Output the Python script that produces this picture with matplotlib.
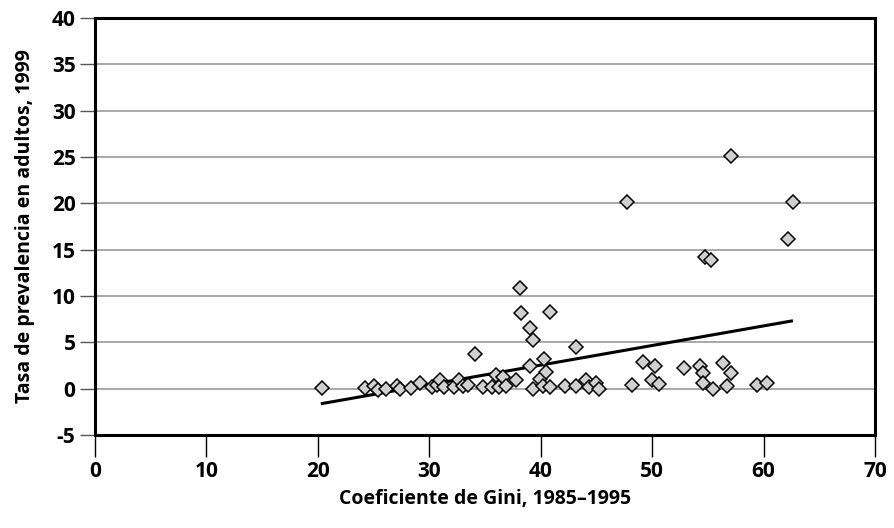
import matplotlib
matplotlib.use("Agg")
import matplotlib.pyplot as plt
import numpy as np

# --- DATA ---
gini = [20.4, 24.2, 25.0, 25.4, 26.1, 27.1, 27.4, 28.4, 29.2, 30.2,
        30.7, 31.0, 31.3, 32.2, 32.7, 33.0, 33.5, 34.1, 34.8, 35.6,
        36.0, 36.3, 36.6, 36.9, 37.8, 38.1, 38.2, 39.0, 39.3, 39.0,
        39.3, 39.9, 40.2, 40.3, 40.5, 40.8, 40.8, 42.2, 43.2, 43.2,
        44.1, 44.3, 45.0, 45.2, 47.7, 48.2, 49.2, 50.0, 50.3, 50.6,
        52.9, 54.3, 54.6, 54.6, 54.7, 55.3, 55.5, 56.4, 56.7, 57.1,
        57.1, 59.4, 60.3, 62.2, 62.6]
prevalencia = [0.1, 0.1, 0.3, -0.1, 0.0, 0.3, 0.0, 0.1, 0.6, 0.2,
               0.4, 0.9, 0.2, 0.15, 0.9, 0.3, 0.4, 3.7, 0.2, 0.15,
               1.5, 0.2, 1.3, 0.3, 0.9, 10.9, 8.2, 6.5, 5.2, 2.4,
               0.0, 1.0, 0.3, 3.2, 1.8, 8.3, 0.2, 0.3, 4.5, 0.3,
               0.9, 0.2, 0.6, 0.0, 20.1, 0.4, 2.9, 0.9, 2.4, 0.5,
               2.2, 2.4, 1.7, 0.6, 14.2, 13.9, 0.0, 2.8, 0.3, 1.7,
               25.1, 0.4, 0.6, 16.2, 20.1]

# linea de tendencia (extremos)
trend_x = [20.4, 62.5]
trend_y = [-1.6, 7.3]

x_ticks = [0, 10, 20, 30, 40, 50, 60, 70]
y_ticks = [-5, 0, 5, 10, 15, 20, 25, 30, 35, 40]

FONT = "Open Sans"
plt.rcParams["axes.unicode_minus"] = False

fig = plt.figure(figsize=(8.95, 5.28), dpi=100)
ax = fig.add_axes([95 / 895, 1 - 435 / 528, 780 / 895, 417 / 528])

# lineas horizontales grises
for yv in y_ticks[1:-1]:
    ax.axhline(yv, color="#999999", lw=1.2, zorder=1)

ax.plot(trend_x, trend_y, color="black", lw=2.2, zorder=2)
ax.plot(gini, prevalencia, linestyle="none", marker="D", markersize=7.6,
        markerfacecolor="#d0d0d0", markeredgecolor="black",
        markeredgewidth=1.1, zorder=3)

ax.set_xlim(0, 70)
ax.set_ylim(-5, 40)
ax.set_xticks(x_ticks)
ax.set_yticks(y_ticks)

for s in ax.spines.values():
    s.set_linewidth(2.2)
    s.set_color("black")

ax.tick_params(axis="x", direction="out", length=16, width=1.0,
               color="black", pad=3)
ax.tick_params(axis="y", direction="out", length=11, width=1.0,
               color="#555555", pad=3)

for lab in ax.get_xticklabels() + ax.get_yticklabels():
    lab.set_fontfamily(FONT)
    lab.set_fontweight("bold")
    lab.set_fontsize(15)

ax.set_xlabel("Coeficiente de Gini, 1985–1995", fontfamily=FONT,
              fontweight="bold", fontsize=14, labelpad=5)
ax.set_ylabel("Tasa de prevalencia en adultos, 1999", fontfamily=FONT,
              fontweight="bold", fontsize=14, labelpad=12)

fig.savefig("out.png", dpi=100)
